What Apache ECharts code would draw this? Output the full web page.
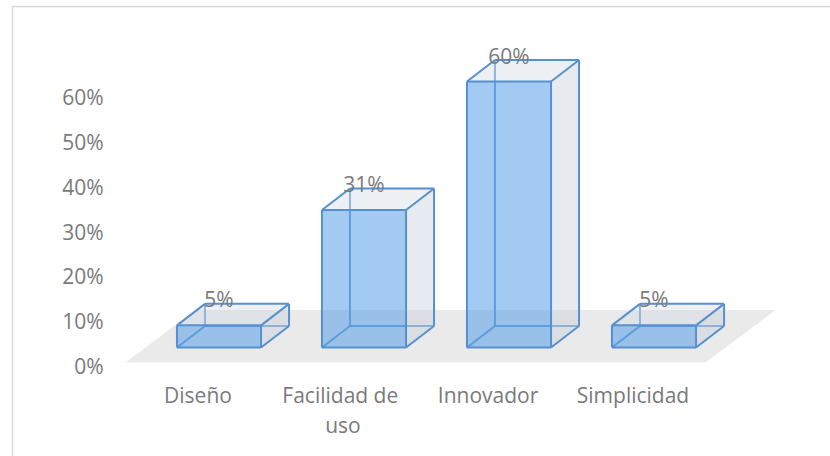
<!DOCTYPE html>
<html>
<head>
<meta charset="utf-8">
<title>Atributos</title>
<script src="https://cdn.jsdelivr.net/npm/echarts@6/dist/echarts.min.js"></script>
<style>
  html, body { margin: 0; padding: 0; background: #ffffff; }
  #chart { width: 830px; height: 456px; }
</style>
</head>
<body>
<div id="chart"></div>
<script>
// Categories and their share (percent)
const categories = ['Diseño', 'Facilidad de uso', 'Innovador', 'Simplicidad'];
const shares = [5, 31, 60, 5];
// Value axis ticks (percent)
const valueTicks = [0, 10, 20, 30, 40, 50, 60];

// Oblique projection of the boxes (pixels)
const DEPTH = [28, -21.5];          // front face -> back face of a box
const FLOOR_FRONT = [-21, 15];      // box front plane -> floor front edge
const FLOOR_DEPTH = [70, -52.5];    // floor front edge -> floor back edge
const BAR_RATIO = 0.58;

const TEXT_COLOR = '#7a7a7a';
const FONT = "'Open Sans', sans-serif";
const EDGE = '#5690cf';

function line(a, b, opacity) {
  return {
    type: 'line',
    shape: { x1: a[0], y1: a[1], x2: b[0], y2: b[1] },
    style: { stroke: EDGE, lineWidth: 2, opacity: opacity == null ? 1 : opacity }
  };
}

function renderFloor(params) {
  const cs = params.coordSys;
  const fl = [cs.x + FLOOR_FRONT[0], cs.y + cs.height + FLOOR_FRONT[1]];
  const fr = [cs.x + cs.width + FLOOR_FRONT[0], fl[1]];
  const br = [fr[0] + FLOOR_DEPTH[0], fr[1] + FLOOR_DEPTH[1]];
  const bl = [fl[0] + FLOOR_DEPTH[0], fl[1] + FLOOR_DEPTH[1]];
  return {
    type: 'polygon',
    shape: { points: [fl, fr, br, bl] },
    style: { fill: '#eaeaea' },
    silent: true
  };
}

function renderBox(params, api) {
  const idx = api.value(0);
  const v = api.value(1);
  const base = api.coord([idx, 0]);
  const top = api.coord([idx, v]);
  const w = api.size([1, 0])[0] * BAR_RATIO;
  const x0 = base[0] - w / 2, x1 = base[0] + w / 2;
  const yb = base[1], yt = top[1];
  const dx = DEPTH[0], dy = DEPTH[1];

  const FBL = [x0, yb], FBR = [x1, yb], FTL = [x0, yt], FTR = [x1, yt];
  const BBL = [x0 + dx, yb + dy], BBR = [x1 + dx, yb + dy];
  const BTL = [x0 + dx, yt + dy], BTR = [x1 + dx, yt + dy];

  return {
    type: 'group',
    children: [
      // edges seen through the translucent faces
      line(BBL, BTL, 0.85),
      line(BBL, BBR, 0.85),
      line(FBL, BBL, 0.85),
      // right side face
      {
        type: 'polygon',
        shape: { points: [FBR, BBR, BTR, FTR] },
        style: { fill: 'rgba(196,206,216,0.40)' }
      },
      // top face
      {
        type: 'polygon',
        shape: { points: [FTL, FTR, BTR, BTL] },
        style: { fill: 'rgba(206,216,226,0.36)' }
      },
      // front face
      {
        type: 'polygon',
        shape: { points: [FBL, FBR, FTR, FTL] },
        style: { fill: 'rgba(80,155,230,0.53)' }
      },
      // outer edges
      line(FBL, FBR), line(FBR, FTR), line(FTR, FTL), line(FTL, FBL),
      line(FTL, BTL), line(FTR, BTR), line(BTL, BTR),
      line(BTR, BBR), line(FBR, BBR),
      // value label
      {
        type: 'text',
        style: {
          x: base[0],
          y: BTL[1] - 4.5,
          text: v + '%',
          fill: TEXT_COLOR,
          font: "21px 'Open Sans', sans-serif",
          align: 'center',
          verticalAlign: 'middle'
        },
        z2: 10
      }
    ]
  };
}

const chart = echarts.init(document.getElementById('chart'), null, { renderer: 'svg' });

chart.setOption({
  animation: false,
  backgroundColor: '#ffffff',
  graphic: [{
    type: 'rect',
    shape: { x: 12.5, y: 6.5, width: 840, height: 470 },
    style: { fill: 'none', stroke: '#d9d9d9', lineWidth: 1.5 },
    silent: true
  }],
  grid: [
    // plane of the axis labels (floor front edge)
    { left: 125.5, width: 580, top: 97, height: 269 },
    // plane of the box front faces
    { left: 146.5, width: 580, top: 81.5, height: 266 }
  ],
  xAxis: [
    {
      gridIndex: 0,
      type: 'category',
      data: categories,
      axisLine: { show: false },
      axisTick: { show: false },
      axisLabel: {
        color: TEXT_COLOR,
        fontFamily: FONT,
        fontSize: 21,
        lineHeight: 30,
        margin: 14,
        width: 140,
        overflow: 'break',
        interval: 0
      }
    },
    {
      gridIndex: 1,
      type: 'category',
      data: categories,
      show: false
    }
  ],
  yAxis: [
    {
      gridIndex: 0,
      type: 'value',
      min: valueTicks[0],
      max: valueTicks[valueTicks.length - 1],
      interval: valueTicks[1] - valueTicks[0],
      axisLine: { show: false },
      axisTick: { show: false },
      splitLine: { show: false },
      axisLabel: {
        color: TEXT_COLOR,
        fontFamily: FONT,
        fontSize: 21,
        margin: 22,
        formatter: '{value}%'
      }
    },
    {
      gridIndex: 1,
      type: 'value',
      min: valueTicks[0],
      max: valueTicks[valueTicks.length - 1],
      show: false
    }
  ],
  series: [
    {
      type: 'custom',
      xAxisIndex: 1,
      yAxisIndex: 1,
      data: [[0, 0]],
      renderItem: renderFloor,
      silent: true,
      z: 1
    },
    {
      type: 'custom',
      xAxisIndex: 1,
      yAxisIndex: 1,
      data: shares.map((v, i) => [i, v]),
      encode: { x: 0, y: 1 },
      renderItem: renderBox,
      z: 2
    }
  ]
});
</script>
</body>
</html>
